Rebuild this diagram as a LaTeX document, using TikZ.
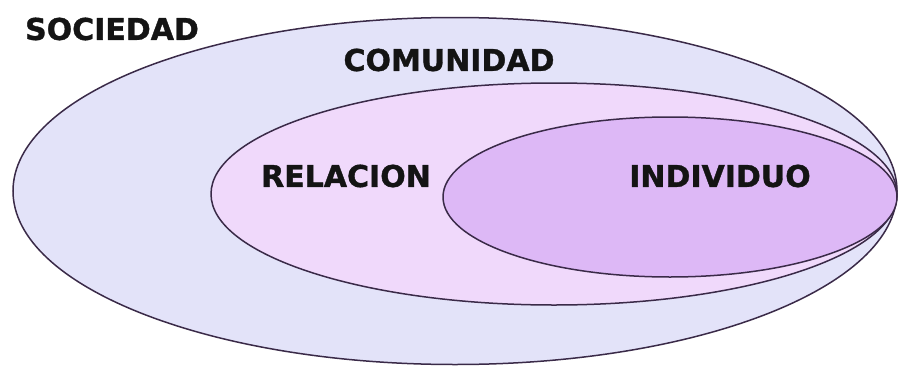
\documentclass[tikz,border=0pt]{standalone}
\usepackage{fontspec}
\setmainfont{DejaVu Sans}
\newfontfamily\heavyfont[FakeBold=1.2]{DejaVu Sans Bold}
\usetikzlibrary{shapes, positioning}
\definecolor{socfill}{HTML}{E3E3F9}
\definecolor{comfill}{HTML}{F0D9FB}
\definecolor{indfill}{HTML}{DDB8F6}
\definecolor{rim}{HTML}{3A2A48}
\tikzstyle{ring} = [draw=rim, line width=1.5pt, ellipse, inner sep=0pt]
\tikzstyle{tag} = [font=\fontsize{30}{36}\heavyfont, text=black!92, inner sep=0pt]

\begin{document}
\begin{tikzpicture}[x=1pt, y=-1pt]
  \useasboundingbox (0,0) rectangle (899,367);
  \node[ring, fill=socfill, minimum width=884pt, minimum height=347pt] (sociedad) at (455,191) {};
  \node[ring, fill=comfill, minimum width=686pt, minimum height=222pt] (relacion) at (554,194) {};
  \node[ring, fill=indfill, minimum width=454pt, minimum height=160pt] (individuo) at (670,197) {};
  \node[tag] (tsoc) at (112,29) {SOCIEDAD};
  \node[tag] (tcom) at (449,60) {COMUNIDAD};
  \node[tag] (trel) at (346,176) {RELACION};
  \node[tag] (tind) at (720,176) {INDIVIDUO};
\end{tikzpicture}
\end{document}
